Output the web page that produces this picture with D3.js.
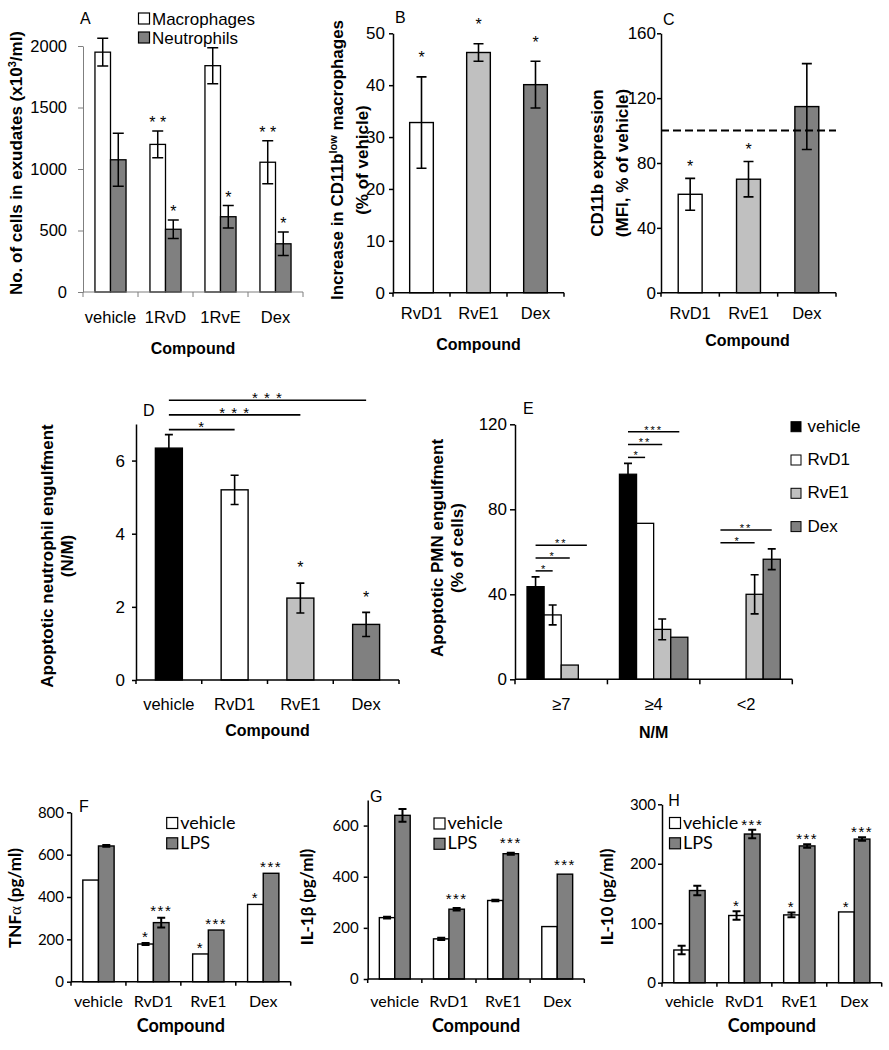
<!DOCTYPE html>
<html><head><meta charset="utf-8">
<script src="https://cdn.jsdelivr.net/npm/d3@7"></script>
<style>body{margin:0;background:#fff}svg{display:block}</style>
</head><body>
<svg id="fig" width="889" height="1050"></svg>
<script>
// ---------------- DATA ----------------
const aCategories = ["vehicle", "1RvD", "1RvE", "Dex"];
const aMacrophages = [1950, 1200, 1840, 1055];
const aMacrophagesErr = [112, 108, 146, 175];
const aNeutrophils = [1075, 510, 612, 392];
const aNeutrophilsErr = [215, 75, 92, 95];
const aMacStars = ["", "* *", "", "* *"];
const aNeutStars = ["", "*", "*", "*"];
const aTicks = [0, 500, 1000, 1500, 2000];

const bCategories = ["RvD1", "RvE1", "Dex"];
const bValues = [32.8, 46.3, 40.1];
const bErr = [8.8, 1.7, 4.5];
const bStars = ["*", "*", "*"];
const bTicks = [0, 10, 20, 30, 40, 50];

const cCategories = ["RvD1", "RvE1", "Dex"];
const cValues = [60.7, 70, 114.8];
const cErr = [9.8, 10.9, 26.5];
const cStars = ["*", "*", ""];
const cReference = 100;
const cTicks = [0, 40, 80, 120, 160];

const dCategories = ["vehicle", "RvD1", "RvE1", "Dex"];
const dValues = [6.34, 5.2, 2.24, 1.52];
const dErr = [0.37, 0.40, 0.41, 0.33];
const dStars = ["", "", "*", "*"];
const dComparisons = [["vehicle", "RvD1", "*"], ["vehicle", "RvE1", "* * *"], ["vehicle", "Dex", "* * *"]];
const dTicks = [0, 2, 4, 6];

const eGroups = ["≥7", "≥4", "<2"];
const eSeries = ["vehicle", "RvD1", "RvE1", "Dex"];
const eVehicle = [43.6, 96.5, 0];
const eRvD1 = [30.3, 73.4, 0];
const eRvE1 = [6.7, 23.5, 40];
const eDex = [0, 19.8, 56.5];
const eVehicleErr = [4.6, 5.1, 0];
const eRvD1Err = [4.7, 0, 0];
const eRvE1Err = [0, 4.9, 9.2];
const eDexErr = [0, 0, 4.9];
const eComparisons = [
  ["≥7", "RvD1", "*"], ["≥7", "RvE1", "*"], ["≥7", "Dex", "**"],
  ["≥4", "RvD1", "*"], ["≥4", "RvE1", "**"], ["≥4", "Dex", "***"],
  ["<2", "RvE1", "*"], ["<2", "Dex", "**"]
];
const eTicks = [0, 40, 80, 120];

const cytoCategories = ["vehicle", "RvD1", "RvE1", "Dex"];
const cytoSeries = ["vehicle", "LPS"];

const fVehicle = [480, 178, 131, 365];
const fVehicleErr = [0, 5, 0, 0];
const fLPS = [641, 279, 244, 512];
const fLPSErr = [4, 23, 0, 0];
const fVehicleStars = ["", "*", "*", "*"];
const fLPSStars = ["", "***", "***", "***"];
const fTicks = [0, 200, 400, 600, 800];

const gVehicle = [240, 157, 307, 205];
const gVehicleErr = [3, 4, 3, 0];
const gLPS = [640, 273, 490, 410];
const gLPSErr = [25, 5, 4, 0];
const gVehicleStars = ["", "", "", ""];
const gLPSStars = ["", "***", "***", "***"];
const gTicks = [0, 200, 400, 600];

const hVehicle = [55, 113, 114, 119];
const hVehicleErr = [7, 7, 4, 0];
const hLPS = [155, 250, 230, 241.5];
const hLPSErr = [8, 7, 3, 3];
const hVehicleStars = ["", "*", "*", "*"];
const hLPSStars = ["", "***", "***", "***"];
const hTicks = [0, 100, 200, 300];

// ---------------- DRAWING ----------------
const svg = d3.select("#fig");
const ARIAL = "'Liberation Sans', Arial, sans-serif";
const CALIBRI = "Lato, 'Liberation Sans', sans-serif";
const WHITE = "#ffffff", LGREY = "#c0c0c0", DGREY = "#808080", BLACK = "#000000";

function drawPanel(p) {
  const g = svg.append("g").style("font-family", p.font);
  const y = d3.scaleLinear().domain([0, p.yMax]).range([p.y0, p.y1]);
  const x = d3.scaleBand().domain(p.categories).range([p.x0, p.x1]);
  const bw = x.bandwidth(), gw = bw * p.groupRatio;
  const xs = d3.scaleBand().domain(p.series.map(s => s.name)).range([(bw - gw) / 2, (bw + gw) / 2]);
  const cw = p.capW;
  const centers = {};

  p.series.forEach(s => {
    const rows = p.categories.map((c, i) => ({
      c, i, v: s.values[i], e: s.errs ? s.errs[i] : 0, star: s.stars ? s.stars[i] : ""
    }));
    const cx = d => x(d.c) + xs(s.name) + xs.bandwidth() / 2;
    rows.forEach(d => { centers[d.c + "|" + s.name] = cx(d); });
    g.append("g").selectAll("rect").data(rows.filter(d => d.v > 0)).join("rect")
      .attr("x", d => x(d.c) + xs(s.name)).attr("width", xs.bandwidth())
      .attr("y", d => y(d.v)).attr("height", d => y(0) - y(d.v))
      .attr("fill", d => s.fills ? s.fills[d.i] : s.fill)
      .attr("stroke", "#000").attr("stroke-width", p.barStroke);
    g.append("g").selectAll("path").data(rows.filter(d => d.e > 0)).join("path")
      .attr("d", d => `M${cx(d)},${y(d.v - d.e)}V${y(d.v + d.e)}M${cx(d) - cw / 2},${y(d.v + d.e)}h${cw}M${cx(d) - cw / 2},${y(d.v - d.e)}h${cw}`)
      .attr("stroke", "#000").attr("stroke-width", p.errStroke).attr("fill", "none");
    g.append("g").selectAll("text").data(rows.filter(d => d.star)).join("text")
      .attr("x", cx).attr("y", d => y(d.v + d.e) - p.starGap + 0.58 * p.starSize)
      .attr("text-anchor", "middle").style("font-family", ARIAL)
      .style("font-size", p.starSize + "px").style("letter-spacing", (p.starSpacing || 0) + "px")
      .text(d => d.star);
  });

  // y axis
  const ya = g.append("g").attr("transform", `translate(${p.x0},0)`)
    .call(d3.axisLeft(y).tickValues(p.ticks).tickFormat(d3.format("d"))
      .tickSize(p.tickLen).tickSizeOuter(0).tickPadding(p.tickPad));
  ya.select(".domain").attr("stroke", p.axisColor).attr("stroke-width", p.axisWidth);
  ya.selectAll(".tick line").attr("stroke", p.axisColor).attr("stroke-width", p.axisWidth);
  ya.selectAll(".tick text").style("font-family", p.font).style("font-size", p.tickFont + "px").attr("fill", "#000");

  // x axis line + boundary ticks
  const bounds = p.categories.map(c => x(c)).concat([p.x1]);
  const xg = g.append("g");
  xg.append("line").attr("x1", p.x0).attr("x2", p.x1).attr("y1", p.y0).attr("y2", p.y0)
    .attr("stroke", p.xAxisColor || p.axisColor).attr("stroke-width", p.axisWidth);
  xg.selectAll("line.bt").data(bounds).join("line").attr("class", "bt")
    .attr("x1", d => d).attr("x2", d => d).attr("y1", p.y0).attr("y2", p.y0 + p.tickLen)
    .attr("stroke", p.xAxisColor || p.axisColor).attr("stroke-width", p.axisWidth);
  xg.selectAll("text.cat").data(p.categories).join("text").attr("class", "cat")
    .attr("x", d => x(d) + bw / 2).attr("y", p.xLabelY).attr("text-anchor", "middle")
    .style("font-size", p.xFont + "px").text(d => d);
  g.append("text").attr("x", (p.x0 + p.x1) / 2 + (p.xTitleDx || 0)).attr("y", p.xTitleY)
    .attr("text-anchor", "middle").style("font-weight", "bold").style("font-size", p.xTitleFont + "px")
    .text(p.xTitle);
  p.yTitle.forEach((line, i) => {
    const t = g.append("text").attr("transform", `translate(${p.yTitleX[i]},${p.yTitleY}) rotate(-90)`)
      .attr("text-anchor", "middle").attr("dy", "0.35em")
      .style("font-weight", "bold").style("font-size", p.yTitleFont + "px");
    line.forEach(part => {
      const ts = t.append("tspan").text(part.t);
      if (part.sup) ts.style("font-size", (p.yTitleFont * 0.65) + "px").attr("baseline-shift", "super");
      if (part.ff) ts.style("font-family", part.ff).style("font-weight", "normal");
    });
  });
  g.append("text").attr("x", p.letterX).attr("y", p.letterY).style("font-family", ARIAL)
    .style("font-size", "16px").text(p.letter);

  return { g, x, y, xs, bw, centers };
}

// ---- Panel A ----
const A = drawPanel({
  font: ARIAL, categories: aCategories, yMax: 2000, ticks: aTicks,
  x0: 83, x1: 303, y0: 292, y1: 46, groupRatio: 0.565, capW: 11,
  series: [
    { name: "Macrophages", values: aMacrophages, errs: aMacrophagesErr, fill: WHITE, stars: aMacStars },
    { name: "Neutrophils", values: aNeutrophils, errs: aNeutrophilsErr, fill: DGREY, stars: aNeutStars }
  ],
  barStroke: 1.3, errStroke: 1.5, starGap: 12, starSize: 16, starSpacing: 0,
  axisColor: "#7f7f7f", axisWidth: 1, tickLen: 5, tickPad: 11, tickFont: 16.5,
  xLabelY: 323, xFont: 16.5, xTitle: "Compound", xTitleY: 354, xTitleFont: 16,
  yTitle: [[{ t: "No. of cells in exudates (x10" }, { t: "3", sup: true }, { t: "/ml)" }]],
  yTitleX: [16], yTitleY: 163, yTitleFont: 17, letter: "A", letterX: 80, letterY: 24
});
[["Macrophages", WHITE, 13], ["Neutrophils", DGREY, 32]].forEach(([t, f, yy]) => {
  A.g.append("rect").attr("x", 138.5).attr("y", yy).attr("width", 11).attr("height", 11)
    .attr("fill", f).attr("stroke", "#000").attr("stroke-width", 1.2);
  A.g.append("text").attr("x", 152).attr("y", yy + 11.5).style("font-size", "17px").text(t);
});

// ---- Panel B ----
drawPanel({
  font: ARIAL, categories: bCategories, yMax: 50, ticks: bTicks,
  x0: 393, x1: 564, y0: 292.7, y1: 33.3, groupRatio: 0.415, capW: 10,
  series: [{ name: "v", values: bValues, errs: bErr, fills: [WHITE, LGREY, DGREY], stars: bStars }],
  barStroke: 1.4, errStroke: 1.6, starGap: 23, starSize: 16,
  axisColor: "#000", axisWidth: 1.5, tickLen: 4, tickPad: 4, tickFont: 17,
  xLabelY: 318.5, xFont: 16.5, xTitle: "Compound", xTitleY: 350, xTitleFont: 16,
  yTitle: [[{ t: "Increase in CD11b" }, { t: "low", sup: true }, { t: " macrophages" }], [{ t: "(% of vehicle)" }]],
  yTitleX: [337, 362], yTitleY: 160, yTitleFont: 17, letter: "B", letterX: 395, letterY: 22.7
});
// ---- Panel C ----
const C = drawPanel({
  font: ARIAL, categories: cCategories, yMax: 160, ticks: cTicks,
  x0: 661, x1: 836, y0: 292.7, y1: 33.3, groupRatio: 0.41, capW: 10,
  series: [{ name: "v", values: cValues, errs: cErr, fills: [WHITE, LGREY, DGREY], stars: cStars }],
  barStroke: 1.4, errStroke: 1.6, starGap: 16, starSize: 16,
  axisColor: "#000", axisWidth: 1.5, tickLen: 4, tickPad: 1, tickFont: 17,
  xLabelY: 318.5, xFont: 16.5, xTitle: "Compound", xTitleY: 346, xTitleFont: 16, xTitleDx: -1,
  yTitle: [[{ t: "CD11b expression" }], [{ t: "(MFI, % of vehicle)" }]],
  yTitleX: [597, 622], yTitleY: 163, yTitleFont: 17, letter: "C", letterX: 663, letterY: 25
});
C.g.append("line").attr("x1", 661).attr("x2", 836).attr("y1", C.y(cReference)).attr("y2", C.y(cReference))
  .attr("stroke", "#000").attr("stroke-width", 2).attr("stroke-dasharray", "8,4");

// ---- Panel D ----
const D = drawPanel({
  font: ARIAL, categories: dCategories, yMax: 7, ticks: dTicks,
  x0: 136, x1: 399, y0: 680, y1: 424, groupRatio: 0.41, capW: 8,
  series: [{ name: "v", values: dValues, errs: dErr, fills: [BLACK, WHITE, LGREY, DGREY], stars: dStars }],
  barStroke: 1.4, errStroke: 1.6, starGap: 19, starSize: 16,
  axisColor: "#000", axisWidth: 1.5, tickLen: 4, tickPad: 7, tickFont: 17,
  xLabelY: 710, xFont: 16.5, xTitle: "Compound", xTitleY: 736, xTitleFont: 16,
  yTitle: [[{ t: "Apoptotic neutrophil engulfment" }], [{ t: "(N/M)" }]],
  yTitleX: [47.5, 67], yTitleY: 556, yTitleFont: 17, letter: "D", letterX: 143, letterY: 416
});
{
  const top = d3.max(dValues.map((v, i) => v + dErr[i]));
  const base = D.y(top) - 5;
  dComparisons.forEach(([a, b, lab], i) => {
    const x1 = D.x(a) + D.bw / 2, x2 = D.x(b) + D.bw / 2, yy = base - i * 14.7;
    D.g.append("line").attr("x1", x1).attr("x2", x2).attr("y1", yy).attr("y2", yy)
      .attr("stroke", "#000").attr("stroke-width", 1.6);
    D.g.append("text").attr("x", (x1 + x2) / 2).attr("y", yy - 6 + 0.58 * 15).attr("text-anchor", "middle")
      .style("font-size", "15px").style("letter-spacing", "1px").text(lab);
  });
}

// ---- Panel E ----
const eColors = [BLACK, WHITE, LGREY, DGREY];
const eVals = [eVehicle, eRvD1, eRvE1, eDex];
const eErrs = [eVehicleErr, eRvD1Err, eRvE1Err, eDexErr];
const E = drawPanel({
  font: ARIAL, categories: eGroups, yMax: 120, ticks: eTicks,
  x0: 515, x1: 792.3, y0: 679.3, y1: 424.3, groupRatio: 0.74, capW: 8,
  series: eSeries.map((s, i) => ({ name: s, values: eVals[i], errs: eErrs[i], fill: eColors[i] })),
  barStroke: 1.3, errStroke: 1.6, starGap: 10, starSize: 14,
  axisColor: "#000", axisWidth: 1.5, tickLen: 5, tickPad: 3, tickFont: 17,
  xLabelY: 710, xFont: 16.5, xTitle: "N/M", xTitleY: 738, xTitleFont: 16,
  yTitle: [[{ t: "Apoptotic PMN engulfment" }], [{ t: "(% of cells)" }]],
  yTitleX: [437, 457], yTitleY: 548, yTitleFont: 17, letter: "E", letterX: 523, letterY: 414.3
});
{
  const levelCount = {};
  eComparisons.forEach(([grp, target, lab]) => {
    const gi = eGroups.indexOf(grp);
    const top = d3.max(eSeries.map((s, k) => eVals[k][gi] + eErrs[k][gi]));
    const n = levelCount[grp] = (levelCount[grp] || 0);
    levelCount[grp]++;
    const yy = E.y(top) - 6 - n * 12.8;
    const x1 = E.centers[grp + "|vehicle"], x2 = E.centers[grp + "|" + target];
    E.g.append("line").attr("x1", x1).attr("x2", x2).attr("y1", yy).attr("y2", yy)
      .attr("stroke", "#000").attr("stroke-width", 1.5);
    E.g.append("text").attr("x", (x1 + x2) / 2).attr("y", yy - 4.5 + 0.58 * 11).attr("text-anchor", "middle")
      .style("font-size", "11px").style("letter-spacing", "2px").text(lab);
  });
  eSeries.forEach((s, i) => {
    const yy = 421.7 + i * 33.3;
    E.g.append("rect").attr("x", 791).attr("y", yy).attr("width", 10).attr("height", 10)
      .attr("fill", eColors[i]).attr("stroke", "#000").attr("stroke-width", 1);
    E.g.append("text").attr("x", 807.5).attr("y", yy + 10).style("font-size", "17px").text(s);
  });
}

// ---- Panels F, G, H ----
function cytoPanel(cfg) {
  const P = drawPanel(Object.assign({
    font: CALIBRI, categories: cytoCategories, groupRatio: 0.57, capW: 8,
    barStroke: 1.4, errStroke: 2, starSize: 15, starSpacing: 1.5,
    axisColor: "#000", axisWidth: 1.5, tickLen: 4, tickFont: 15,
    xFont: 16, xTitle: "Compound", xTitleY: 1032, xTitleFont: 18, yTitleFont: 17
  }, cfg));
  cytoSeries.forEach((s, i) => {
    const yy = cfg.legY + i * 20.3;
    P.g.append("rect").attr("x", cfg.legX).attr("y", yy).attr("width", 11).attr("height", 11)
      .attr("fill", i ? DGREY : WHITE).attr("stroke", "#000").attr("stroke-width", 1.2);
    P.g.append("text").attr("x", cfg.legX + 13.5).attr("y", yy + 11).style("font-size", "18px").text(s);
  });
  return P;
}
cytoPanel({
  yMax: 800, ticks: fTicks, x0: 71, x1: 290.7, y0: 981.7, y1: 812.3,
  series: [
    { name: "vehicle", values: fVehicle, errs: fVehicleErr, fill: WHITE, stars: fVehicleStars },
    { name: "LPS", values: fLPS, errs: fLPSErr, fill: DGREY, stars: fLPSStars }
  ],
  starGap: 10, tickPad: 3, xLabelY: 1006.5,
  yTitle: [[{ t: "TNF" }, { t: "α", ff: "'Liberation Serif', serif" }, { t: " (pg/ml)" }]],
  yTitleX: [15], yTitleY: 898, letter: "F", letterX: 79, letterY: 811.7, legX: 166.7, legY: 817.5
});
cytoPanel({
  yMax: 700, ticks: gTicks, x0: 367.7, x1: 584.3, y0: 979, y1: 800,
  series: [
    { name: "vehicle", values: gVehicle, errs: gVehicleErr, fill: WHITE, stars: gVehicleStars },
    { name: "LPS", values: gLPS, errs: gLPSErr, fill: DGREY, stars: gLPSStars }
  ],
  starGap: 13, tickPad: 5, xLabelY: 1006.5,
  yTitle: [[{ t: "IL-1β (pg/ml)" }]],
  yTitleX: [307], yTitleY: 897, letter: "G", letterX: 370, letterY: 802.3, legX: 434, legY: 818
});
cytoPanel({
  yMax: 300, ticks: hTicks, x0: 662, x1: 881.7, y0: 982.7, y1: 804.3,
  series: [
    { name: "vehicle", values: hVehicle, errs: hVehicleErr, fill: WHITE, stars: hVehicleStars },
    { name: "LPS", values: hLPS, errs: hLPSErr, fill: DGREY, stars: hLPSStars }
  ],
  starGap: 9, tickPad: 2, xLabelY: 1006.5,
  yTitle: [[{ t: "IL-10 (pg/ml)" }]],
  yTitleX: [607], yTitleY: 897, letter: "H", letterX: 668.3, letterY: 806, legX: 669.5, legY: 817.5
});
</script>
</body></html>
